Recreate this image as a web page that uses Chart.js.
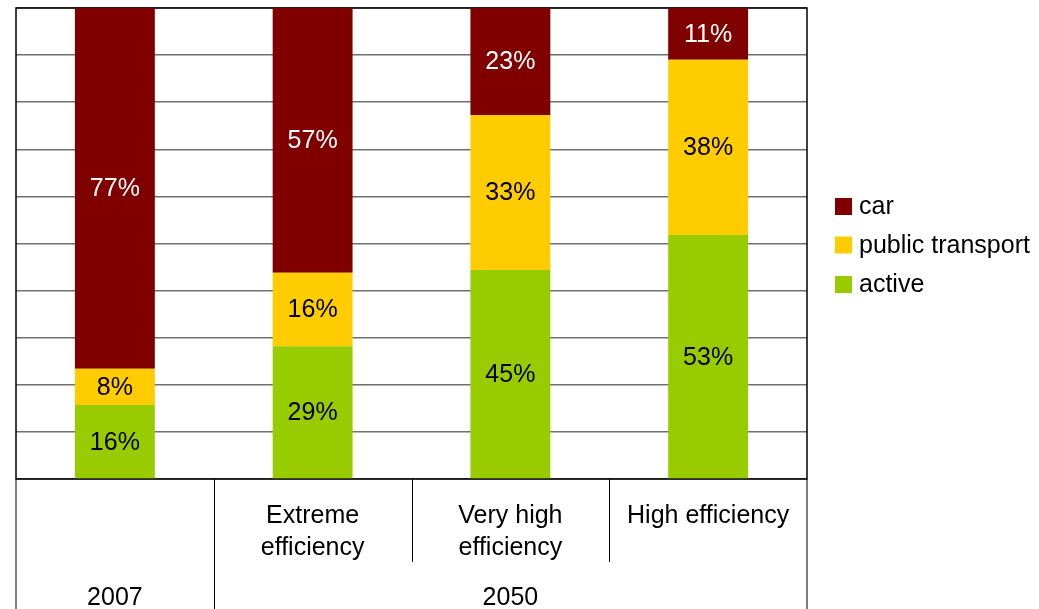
<!DOCTYPE html>
<html>
<head>
<meta charset="utf-8">
<script src="https://cdn.jsdelivr.net/npm/chart.js@4/dist/chart.umd.min.js"></script>
<style>
  html, body { margin: 0; padding: 0; background: #ffffff; }
  #wrap { width: 1039px; height: 609px; }
</style>
</head>
<body>
<div id="wrap"><canvas id="c" width="1039" height="609"></canvas></div>
<script>
// ---- data ----
const categories = ['2007', 'Extreme efficiency', 'Very high efficiency', 'High efficiency'];
const categoryLines = [[''], ['Extreme', 'efficiency'], ['Very high', 'efficiency'], ['High efficiency']];
const groups = ['2007', '2050'];
const groupSpans = [[0, 0], [1, 3]];
const seriesNames = ['active', 'public transport', 'car'];
const activeShare = [15.7, 28.2, 44.4, 51.8];
const publicShare = [7.7, 15.6, 32.9, 37.2];
const carShare = [76.6, 56.2, 22.7, 11.0];
const activeLabels = [16, 29, 45, 53];
const publicLabels = [8, 16, 33, 38];
const carLabels = [77, 57, 23, 11];
const colors = ['#99CC00', '#FFCC00', '#800000'];
const labelColors = ['#000000', '#000000', '#ffffff'];
const legendOrder = [2, 1, 0];

const FONT = '25px "Liberation Sans", Arial, sans-serif';
const labelArrays = [activeLabels, publicLabels, carLabels];

const framePlugin = {
  id: 'frame',
  beforeDatasetsDraw(chart) {
    const { ctx, chartArea: a } = chart;
    ctx.save();
    ctx.strokeStyle = '#000';
    ctx.lineWidth = 1.5;
    ctx.strokeRect(a.left, a.top, a.right - a.left, a.bottom - a.top);
    ctx.restore();
  },
  afterDatasetsDraw(chart) {
    const { ctx, chartArea: a } = chart;
    const xs = chart.scales.x;
    ctx.save();
    // data labels
    ctx.font = FONT;
    ctx.textAlign = 'center';
    ctx.textBaseline = 'middle';
    chart.data.datasets.forEach((ds, di) => {
      const meta = chart.getDatasetMeta(di);
      meta.data.forEach((el, i) => {
        const cy = (el.y + el.base) / 2;
        ctx.fillStyle = labelColors[di];
        ctx.fillText(labelArrays[di][i] + '%', el.x, cy + 1);
      });
    });
    // category axis table
    const n = categories.length;
    const half = (xs.getPixelForValue(1) - xs.getPixelForValue(0)) / 2;
    const H = chart.height;
    ctx.strokeStyle = '#000';
    ctx.lineWidth = 1;
    ctx.beginPath();
    ctx.moveTo(a.left, a.bottom); ctx.lineTo(a.left, H);
    ctx.moveTo(a.right, a.bottom); ctx.lineTo(a.right, H);
    ctx.stroke();
    for (let i = 1; i < n; i++) {
      const x = Math.round(xs.getPixelForValue(i) - half) + 0.5;
      const isGroupEdge = groupSpans.some(s => s[0] === i);
      ctx.beginPath();
      ctx.moveTo(x, a.bottom);
      ctx.lineTo(x, isGroupEdge ? H : a.bottom + 83);
      ctx.stroke();
    }
    ctx.fillStyle = '#000';
    ctx.font = FONT;
    categoryLines.forEach((lines, i) => {
      const x = xs.getPixelForValue(i);
      lines.forEach((t, j) => {
        ctx.fillText(t, x, a.bottom + 37 + j * 32);
      });
    });
    groups.forEach((g, gi) => {
      const s = groupSpans[gi];
      const x0 = xs.getPixelForValue(s[0]) - half;
      const x1 = xs.getPixelForValue(s[1]) + half;
      ctx.fillText(g, (x0 + x1) / 2, a.bottom + 119);
    });
    // legend
    const lx = 835, ly = [206.5, 245, 284.5];
    ctx.textAlign = 'left';
    legendOrder.forEach((di, k) => {
      ctx.fillStyle = colors[di];
      ctx.fillRect(lx, ly[k] - 8.5, 17, 17);
      ctx.fillStyle = '#000';
      ctx.fillText(seriesNames[di], lx + 24, ly[k] + 1);
    });
    ctx.restore();
  }
};

new Chart(document.getElementById('c'), {
  type: 'bar',
  data: {
    labels: categories,
    datasets: [
      { label: seriesNames[0], data: activeShare, backgroundColor: colors[0] },
      { label: seriesNames[1], data: publicShare, backgroundColor: colors[1] },
      { label: seriesNames[2], data: carShare, backgroundColor: colors[2] }
    ]
  },
  options: {
    responsive: false,
    animation: false,
    devicePixelRatio: 1,
    layout: { padding: { left: 16, top: 8, right: 232, bottom: 130 } },
    datasets: { bar: { categoryPercentage: 1, barPercentage: 0.404, borderWidth: 0 } },
    plugins: { legend: { display: false }, tooltip: { enabled: false } },
    scales: {
      x: {
        stacked: true,
        display: false,
        afterFit(s) { s.height = 0; }
      },
      y: {
        stacked: true,
        min: 0, max: 100,
        ticks: { display: false, stepSize: 10 },
        grid: { color: '#707070', lineWidth: 1.5, drawTicks: false },
        border: { display: false },
        afterFit(s) { s.width = 0; }
      }
    }
  },
  plugins: [framePlugin]
});
</script>
</body>
</html>
